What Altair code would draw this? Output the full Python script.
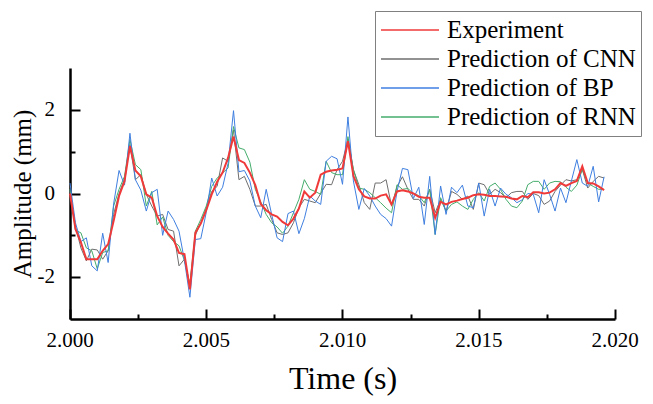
import altair as alt
import pandas as pd

# ---- data ----
series_names = ["Experiment", "Prediction of CNN", "Prediction of BP", "Prediction of RNN"]
series_colors = ["#f03a3a", "#6e6e6e", "#3f7fe0", "#45ad6c"]

n_pts = 99
time_s = [round(2.0 + 0.0002 * i, 4) for i in range(n_pts)]

experiment = [0.0, -0.85, -1.17, -1.57, -1.57, -1.57, -1.37, -1.21, -0.66, -0.06,
              0.29, 1.13, 0.55, 0.41, -0.02, -0.1, -0.54, -0.8, -0.96, -1.1,
              -1.42, -1.45, -2.29, -0.94, -0.72, -0.4, -0.02, 0.28, 0.5, 0.85,
              1.36, 0.8, 0.73, 0.5, 0.2, -0.25, -0.4, -0.5, -0.55, -0.68,
              -0.76, -0.6, -0.36, 0.05, -0.1, 0.02, 0.45, 0.52, 0.55, 0.57,
              0.6, 1.25, 0.42, 0.1, -0.07, -0.12, -0.12, -0.05, -0.02, -0.26,
              0.05, 0.08, 0.05, 0.0, -0.08, -0.1, -0.1, -0.58, -0.2, -0.26,
              -0.2, -0.17, -0.13, -0.1, -0.04, -0.02, -0.03, -0.06, -0.06, -0.07,
              -0.08, -0.12, -0.14, -0.06, -0.09, 0.03, 0.03, 0.0, 0.02, 0.1,
              0.25, 0.18, 0.25, 0.3, 0.65, 0.25, 0.24, 0.17, 0.08]

pred_cnn = [0.05, -0.78, -1.3, -1.61, -1.33, -1.35, -1.57, -1.37, -0.5, 0.0,
            0.35, 1.17, 0.33, 0.45, -0.02, -0.3, -0.54, -0.5, -0.86, -0.9,
            -1.73, -1.57, -2.2, -1.0, -0.7, -0.35, 0.05, 0.17, 0.85, 0.77,
            1.52, 0.33, 0.41, 0.1, -0.3, -0.3, -0.26, -0.62, -0.94, -0.98,
            -0.94, -0.7, -0.34, -0.14, -0.18, -0.22, 0.0, 0.22, 0.21, 0.57,
            0.77, 1.29, 0.57, 0.21, -0.22, -0.38, 0.25, 0.25, 0.33, -0.3,
            0.16, 0.4, 0.1, -0.14, -0.14, -0.3, 0.1, -0.46, -0.14, -0.42,
            0.05, -0.02, -0.14, -0.06, -0.38, 0.25, 0.21, -0.02, 0.1, 0.02,
            -0.1, 0.02, 0.05, 0.05, -0.14, 0.0, -0.05, -0.26, -0.18, 0.05,
            0.2, 0.33, 0.3, 0.33, 0.57, 0.13, 0.29, 0.41, 0.37]

pred_bp = [0.25, -0.7, -1.15, -1.06, -1.73, -1.85, -0.95, -1.65, -0.25, 0.55,
           0.2, 1.44, 0.33, 0.08, -0.42, 0.02, 0.1, -1.0, -0.42, -0.62,
           -0.9, -1.6, -2.48, -1.1, -1.08, -0.45, 0.37, -0.06, 0.15, 0.72,
           1.98, 0.52, 0.55, 0.3, -0.3, -0.58, 0.1, -0.5, -1.06, -1.15,
           -0.48, -0.42, -0.96, -0.6, -0.06, -0.18, -0.26, 0.77, 0.89, 0.83,
           0.22, 1.83, 0.3, -0.38, 0.12, -0.06, -0.3, -0.5, -0.6, -0.78,
           0.05, 0.6, 0.57, -0.12, 0.15, -0.74, 0.41, -0.98, 0.18, -0.5,
           0.15, 0.02, 0.2, -0.3, -0.34, 0.25, -0.54, 0.1, -0.3, 0.13,
           -0.02, -0.1, -0.22, -0.15, 0.0, -0.02, -0.46, 0.33, -0.02, -0.42,
           0.13, -0.22, 0.3, 0.81, 0.25, 0.17, 0.65, -0.2, 0.4]

pred_rnn = [0.1, -0.88, -0.94, -1.3, -1.37, -1.8, -1.41, -1.37, -0.3, 0.1,
            0.41, 1.29, 0.69, 0.57, -0.3, 0.05, -0.75, -0.56, -1.0, -1.15,
            -1.25, -1.6, -2.17, -0.9, -0.62, -0.3, 0.17, 0.37, 0.49, 0.61,
            1.6, 1.09, 1.05, 0.75, 0.1, -0.2, -0.5, -0.7, -0.8, -0.95,
            -0.78, -0.46, -0.14, 0.33, 0.1, 0.05, -0.02, 0.77, 0.5, 0.45,
            0.45, 1.36, 0.57, 0.13, 0.1, 0.02, -0.1, -0.22, -0.35, -0.46,
            0.21, 0.1, 0.12, 0.0, -0.05, -0.22, 0.1, -0.98, -0.1, -0.42,
            -0.26, -0.2, -0.3, -0.38, -0.14, 0.02, -0.18, 0.17, 0.25, 0.1,
            -0.14, -0.3, -0.34, -0.18, 0.21, 0.29, 0.29, 0.1, 0.25, 0.29,
            0.28, 0.15, 0.05, 0.2, 0.57, 0.25, 0.17, 0.1, 0.1]

x_major = [2.000, 2.005, 2.010, 2.015, 2.020]
x_major_labels = ["2.000", "2.005", "2.010", "2.015", "2.020"]
x_minor = [2.0025, 2.0075, 2.0125, 2.0175]
y_major = [-2, 0, 2]
y_major_labels = ["-2", "0", "2"]
y_minor = [-1, 1]

# draw order: CNN, RNN, BP underneath, experiment on top
rows = []
for name, vals in [("Prediction of CNN", pred_cnn), ("Prediction of RNN", pred_rnn),
                   ("Prediction of BP", pred_bp), ("Experiment", experiment)]:
    for t, v in zip(time_s, vals):
        rows.append({"t": t, "v": v, "series": name})
df = pd.DataFrame(rows)
xlab_df = pd.DataFrame({"t": x_major, "label": x_major_labels})
ylab_df = pd.DataFrame({"v": y_major, "label": y_major_labels})

FONT = "Liberation Serif"
W, H = 545, 251
xscale = alt.Scale(domain=[2.0, 2.02], nice=False, zero=False)
yscale = alt.Scale(domain=[-3, 3], nice=False, zero=False)

legend = alt.Legend(
    title=None, orient="none", legendX=305, legendY=-57, direction="vertical",
    symbolType="stroke", symbolSize=3364, symbolStrokeWidth=1.5,
    labelFont=FONT, labelFontSize=25, labelColor="black", labelOffset=7, labelLimit=400,
    strokeColor="#808080", fillColor="white", padding=5, clipHeight=28, rowPadding=1,
)
color = alt.Color("series:N", scale=alt.Scale(domain=series_names, range=series_colors), legend=legend)

x_lab = alt.X("t:Q", scale=xscale, axis=alt.Axis(
    values=x_major, labels=False, ticks=False, grid=False, domainColor="black", domainWidth=2.5,
    title="Time (s)", titleFont=FONT, titleFontSize=32, titleFontWeight="normal",
    titleColor="black", titlePadding=44))
y_lab = alt.Y("v:Q", scale=yscale, axis=alt.Axis(
    values=y_major, labels=False, ticks=False, grid=False,
    domainColor="black", domainWidth=2.5,
    title="Amplitude (mm)", titleFont=FONT, titleFontSize=25, titleFontWeight="normal",
    titleColor="black", titlePadding=35))

preds = alt.Chart(df).transform_filter(alt.datum.series != "Experiment").mark_line(
    strokeWidth=1).encode(x=x_lab, y=y_lab, color=color, detail="series:N")
exp = alt.Chart(df).transform_filter(alt.datum.series == "Experiment").mark_line(
    strokeWidth=2).encode(x=alt.X("t:Q", scale=xscale, axis=None),
                          y=alt.Y("v:Q", scale=yscale, axis=None), color=color)

# tick labels as serif text, positioned through the shared scales
x_labels = alt.Chart(xlab_df).mark_text(
    font=FONT, fontSize=21, baseline="top", align="center", color="black", dy=0
).encode(x=alt.X("t:Q", scale=xscale, axis=None), y=alt.value(H + 11), text="label:N")
y_labels = alt.Chart(ylab_df).mark_text(
    font=FONT, fontSize=21, baseline="middle", align="right", color="black"
).encode(x=alt.value(-15), y=alt.Y("v:Q", scale=yscale, axis=None), text="label:N")

def tick_layer(xv, yv, size):
    return alt.Chart(df).mark_point(opacity=0).encode(
        x=alt.X("t:Q", scale=xscale, axis=alt.Axis(
            orient="top", offset=-H, values=xv, labels=False, domain=False, grid=False,
            ticks=True, tickSize=size, tickWidth=2, tickColor="black", title=None)),
        y=alt.Y("v:Q", scale=yscale, axis=alt.Axis(
            orient="right", offset=-W, values=yv, labels=False, domain=False, grid=False,
            ticks=True, tickSize=size, tickWidth=2, tickColor="black", title=None)),
    )

chart = alt.layer(
    preds, exp, tick_layer(x_major, y_major, 10), tick_layer(x_minor, y_minor, 5),
    x_labels, y_labels,
).resolve_axis(
    x="independent", y="independent"
).properties(
    width=W, height=H,
    autosize=alt.AutoSizeParams(type="none"),
    padding={"left": 70, "top": 68, "right": 38, "bottom": 85},
    background="white",
).configure_view(stroke="transparent")

chart.save("out.html", embed_options={"renderer": "svg", "actions": False})
